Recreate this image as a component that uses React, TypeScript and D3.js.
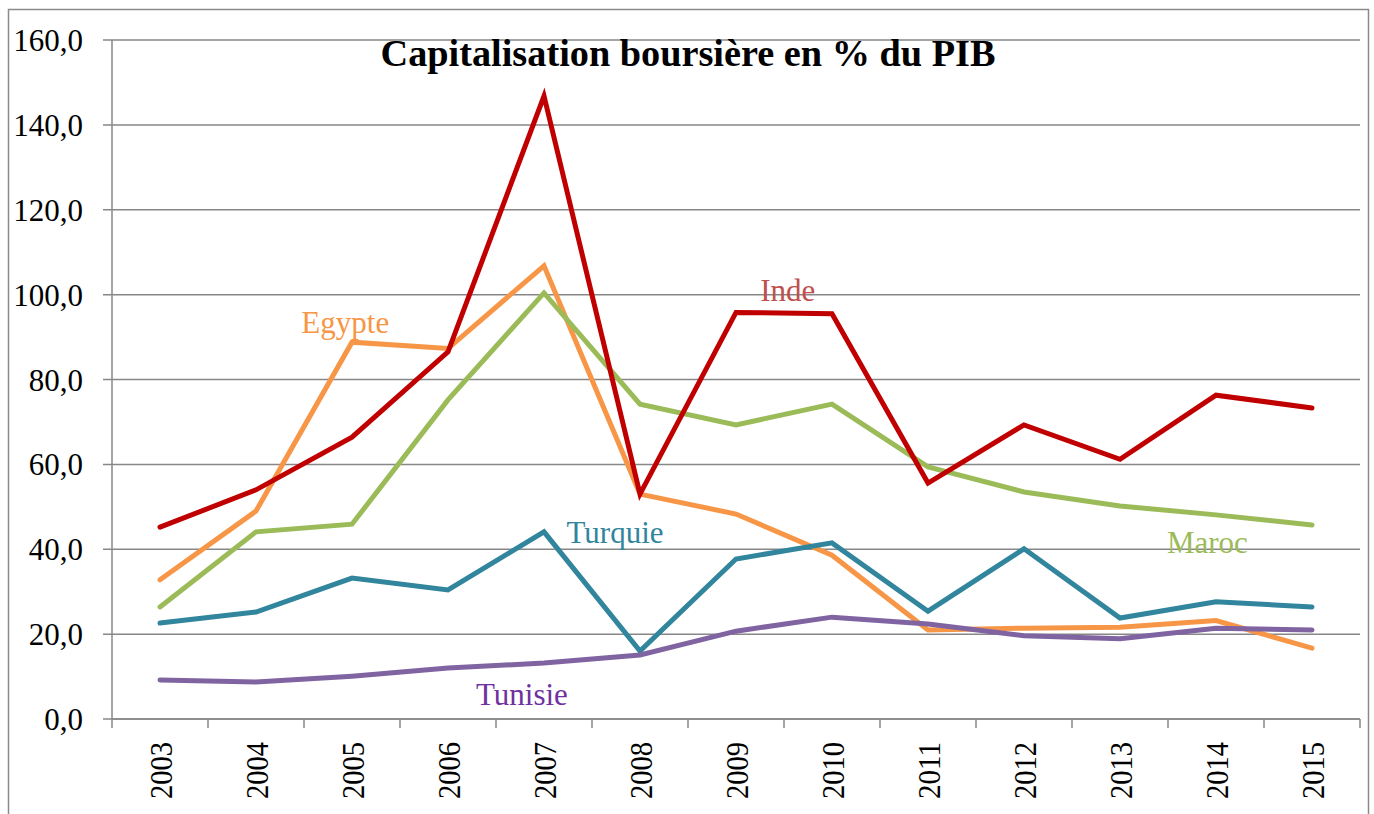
import React from "react";
import * as d3 from "d3";

const years = ["2003","2004","2005","2006","2007","2008","2009","2010","2011","2012","2013","2014","2015"];
const yTicks = [0, 20, 40, 60, 80, 100, 120, 140, 160];

const egypte = [32.8, 49.0, 88.8, 87.3, 106.8, 53.0, 48.3, 38.6, 21.0, 21.4, 21.6, 23.2, 16.7];
const inde = [45.2, 54.0, 66.4, 86.5, 146.8, 53.0, 95.8, 95.5, 55.6, 69.3, 61.2, 76.3, 73.3];
const maroc = [26.4, 44.1, 45.9, 75.2, 100.4, 74.2, 69.3, 74.2, 59.4, 53.5, 50.2, 48.1, 45.7];
const turquie = [22.6, 25.2, 33.2, 30.4, 44.1, 16.0, 37.7, 41.5, 25.4, 40.1, 23.8, 27.6, 26.4];
const tunisie = [9.2, 8.7, 10.1, 12.0, 13.2, 15.1, 20.7, 24.0, 22.4, 19.6, 18.9, 21.4, 21.0];

const seriesNames = ["Egypte", "Maroc", "Turquie", "Tunisie", "Inde"];
const seriesValues = [egypte, maroc, turquie, tunisie, inde];
const lineColors = ["#F79646", "#9BBB59", "#31859C", "#8064A2", "#C00000"];

const labelTexts = ["Egypte", "Inde", "Turquie", "Maroc", "Tunisie"];
const labelColors = ["#F79646", "#C0504D", "#31859C", "#9BBB59", "#7030A0"];
// label anchor: [year index (fractional), value]
const labelYearPos = [1.93, 6.54, 4.74, 10.91, 3.77];
const labelValPos = [90.9, 98.5, 41.4, 39.1, 3.3];

const W = 1374;
const H = 814;
const left = 112;
const right = 1360;
const top = 40;
const bottom = 719;
const FONT = "'Liberation Serif', 'Times New Roman', serif";
const GRID = "#878787";

export default function App() {
  const x = d3.scaleBand<string>().domain(years).range([left, right]).padding(0);
  const y = d3.scaleLinear().domain([0, 160]).range([bottom, top]);
  const cx = (i: number) => left + x.bandwidth() * (i + 0.5);
  const line = d3
    .line<number>()
    .x((_, i) => (x(years[i]) as number) + x.bandwidth() / 2)
    .y((d) => y(d));

  const edges = years.map((yr) => x(yr) as number).concat([right]);

  return (
    <svg
      width={W}
      height={H}
      style={{ position: "absolute", left: 0, top: 0, background: "#fff" }}
      fontFamily={FONT}
    >
      <rect x={0} y={0} width={W} height={H} fill="#fff" />
      <path d={`M8.5,${H + 5} V9.5 H1368.5 V${H + 5}`} fill="none" stroke="#8a8a8a" strokeWidth={1.5} />

      {yTicks.map((t) => (
        <g key={t}>
          <line x1={103} x2={right} y1={y(t)} y2={y(t)} stroke={GRID} strokeWidth={1.5} />
          <text x={83} y={y(t) + 11} textAnchor="end" fontSize={31} fill="#000">
            {t.toFixed(1).replace(".", ",")}
          </text>
        </g>
      ))}
      <line x1={left} x2={left} y1={top} y2={bottom} stroke={GRID} strokeWidth={1.5} />
      <line x1={left} x2={right} y1={bottom} y2={bottom} stroke={GRID} strokeWidth={1.5} />
      {edges.map((e, i) => (
        <line key={i} x1={e} x2={e} y1={bottom} y2={bottom + 9} stroke={GRID} strokeWidth={1.5} />
      ))}
      {years.map((yr, i) => (
        <text
          key={yr}
          transform={`translate(${cx(i) + 12},${742}) rotate(-90)`}
          textAnchor="end"
          fontSize={32}
          textLength={57}
          lengthAdjust="spacingAndGlyphs"
          fill="#000"
        >
          {yr}
        </text>
      ))}

      {seriesValues.map((vals, si) => (
        <path
          key={seriesNames[si]}
          d={line(vals) || ""}
          fill="none"
          stroke={lineColors[si]}
          strokeWidth={5}
          strokeLinejoin="miter"
          strokeLinecap="round"
        />
      ))}

      {labelTexts.map((t, i) => (
        <text
          key={t}
          x={cx(labelYearPos[i])}
          y={y(labelValPos[i])}
          textAnchor="middle"
          fontSize={31}
          fill={labelColors[i]}
        >
          {t}
        </text>
      ))}

      <text
        x={688}
        y={66}
        textAnchor="middle"
        fontSize={37}
        fontWeight="bold"
        textLength={615}
        lengthAdjust="spacingAndGlyphs"
        fill="#000"
      >
        Capitalisation boursière en % du PIB
      </text>
    </svg>
  );
}
